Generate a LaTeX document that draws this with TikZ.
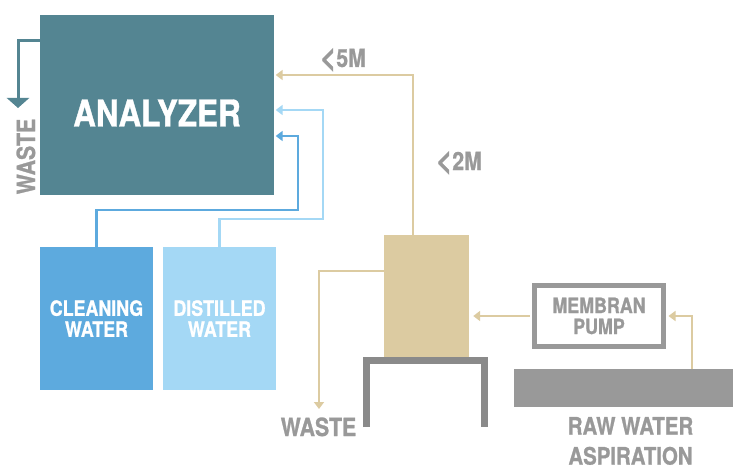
\documentclass[tikz,border=0pt]{standalone}
\usepackage{fontspec}
\usepackage{graphicx}
\newfontfamily\cf{texgyreheros-bold.otf}[FakeStretch=0.85, FakeBold=1]
\usetikzlibrary{arrows.meta}
\definecolor{anteal}{HTML}{548592}
\definecolor{cleanblue}{HTML}{5DAADE}
\definecolor{distblue}{HTML}{A4D8F5}
\definecolor{tankbeige}{HTML}{DCCBA1}
\definecolor{txtgray}{HTML}{999999}
\definecolor{standgray}{HTML}{8A8A8A}
\definecolor{bargray}{HTML}{999999}
\newcommand{\bigless}{\raisebox{-0.04em}{\scalebox{1.3}{<}}}
\tikzset{
  tip/.style={-{Triangle[width=10pt,length=7pt]}},
  tanline/.style={draw=tankbeige, line width=2.5pt, tip},
  cleanline/.style={draw=cleanblue, line width=2.5pt, tip},
  distline/.style={draw=distblue, line width=2.5pt, tip},
  whitelab/.style={font=\cf\fontsize{21}{21}\selectfont, text=white, align=center},
  graylab/.style={font=\cf\fontsize{25}{25}\selectfont, text=txtgray, inner sep=0pt},
}
\begin{document}
\begin{tikzpicture}[x=1pt,y=-1pt]
\useasboundingbox[fill=white] (0,0) rectangle (733,468);

% boxes
\node[fill=anteal, inner sep=0pt, minimum width=234pt, minimum height=180pt,
  label={[font=\cf\fontsize{37}{37}\selectfont, text=white, inner sep=0pt, yshift=-8pt]center:ANALYZER}] (an) at (157,105) {};
\node[fill=cleanblue, inner sep=0pt, minimum width=113pt, minimum height=143pt, whitelab] (clean) at (96.5,318.5) {CLEANING\\WATER};
\node[fill=distblue, inner sep=0pt, minimum width=113pt, minimum height=143pt, whitelab] (dist) at (219.5,318.5) {DISTILLED\\WATER};
\node[fill=tankbeige, inner sep=0pt, minimum width=85pt, minimum height=122pt] (tank) at (426.5,296) {};
\node[fill=bargray, inner sep=0pt, minimum width=219pt, minimum height=38pt] (bar) at (623.5,388) {};

% stand
\draw[standgray, line width=7pt] (366.5,427) -- (366.5,360.5) -- (484.5,360.5) -- (484.5,427);

% connectors
\coordinate (wl) at (18,108);
\coordinate (wb) at (319,409);
\draw[draw=anteal, line width=3pt, -{Triangle[width=22pt,length=10pt]}] ([yshift=-26pt]an.north west) -| (wl);
\draw[tanline, shorten >=1.5pt] ([xshift=-13.5pt]tank.north) |- (an.east |- 0,75);
\draw[distline, shorten >=1.5pt] (dist.north) |- (323,219) |- (an.east |- 0,110);
\draw[cleanline, shorten >=1.5pt] (clean.north) |- (298,210) |- (an.east |- 0,136);
\draw[tanline] ([yshift=25pt]tank.west) -| (wb);

\node[draw=txtgray, line width=5pt, fill=white, inner sep=0pt, minimum width=129pt, minimum height=61pt,
  font=\cf\fontsize{21}{21}\selectfont, text=txtgray, align=center] (pump) at (599,316) {MEMBRAN\\PUMP};
\draw[tanline, shorten <=2.5pt, shorten >=4pt] (pump.west) -- (tank.east |- pump.west);
\draw[tanline, shorten >=2.5pt] ([xshift=68.5pt]bar.north) |- (pump.east);

% labels
\node[graylab, anchor=base] (t5m) at (343,67) {\bigless 5M};
\node[graylab, anchor=base] (t2m) at (459,170) {\bigless 2M};
\node[graylab, anchor=base] (twb) at (318.5,436) {WASTE};
\node[graylab, anchor=base, rotate=90] (twl) at (35,156.5) {WASTE};
\node[graylab, font=\cf\fontsize{24}{30}\selectfont, align=center] (traw) at (630.5,441) {RAW WATER\\ASPIRATION};
\end{tikzpicture}
\end{document}
